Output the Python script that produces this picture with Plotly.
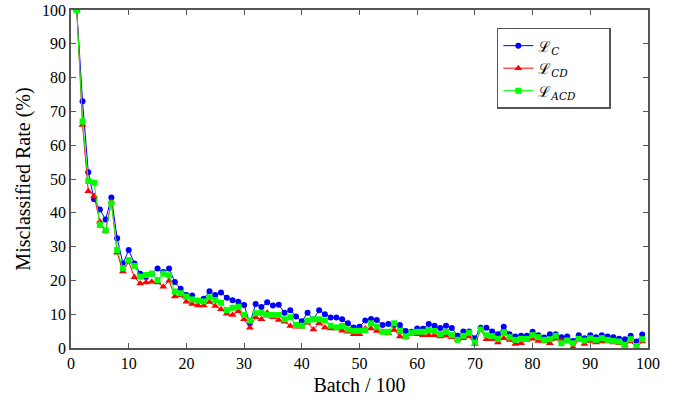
import plotly.graph_objects as go

batch = list(range(1, 100))

loss_c = [100, 73, 52, 44, 41, 38, 44.5, 32.5, 25, 29, 25, 22, 21, 22, 23.5, 22.5, 23.5, 19.5, 17.5, 15.7,
          15.5, 14, 14.6, 16.8, 15.7, 16.4, 14.9, 14.1, 13.7, 12.7, 7.3, 13, 12.1, 13.5, 12.6, 12.8, 10.4, 11.2, 9.3, 7.9,
          10.4, 8.5, 11.2, 10, 9, 9, 8.5, 7.3, 6.1, 6.3, 8.1, 8.6, 8.3, 6.8, 7.1, 6.8, 6.8, 5, 4.8, 5.8,
          5.7, 7.1, 6.6, 5.9, 6.6, 5.9, 3.6, 4.9, 4.9, 2.9, 6, 6, 4.9, 4.1, 6.3, 4.1, 3.4, 3.6, 3.6, 4.8,
          3.8, 3.1, 4.1, 4.1, 3.2, 3.4, 2.1, 3.8, 2.9, 3.8, 3.2, 3.8, 3.4, 3.2, 2.7, 2.6, 3.6, 1.9, 4.0]

loss_cd = [100, 66, 46.4, 45, 37.4, 34.7, 43.3, 28.2, 22.6, 25.5, 20.9, 19.1, 19.4, 19.6, 19.4, 18.1, 19.9, 15.2, 15.5, 13.7,
           13, 12.6, 12.6, 13.6, 12.4, 11.5, 10.1, 9.8, 10.9, 8.5, 6, 9.1, 8.5, 10.4, 9.1, 8.3, 7.8, 6.5, 6.3, 6.3,
           7.5, 5.5, 7.3, 6.1, 5.8, 5.8, 5.1, 4.8, 4.1, 4.1, 5.8, 5.8, 5, 4.8, 4.3, 5.3, 3.4, 3.2, 4.1, 4.1,
           3.8, 3.8, 3.8, 3.4, 3.6, 3.2, 2.6, 2.9, 3.4, 1.2, 5.3, 2.6, 2.6, 1.6, 2.9, 2.4, 1.2, 1.4, 2.4, 2.7,
           2.1, 1.9, 1.4, 2.7, 2.2, 2.4, 0.2, 2.4, 1.2, 2.1, 1.6, 1.9, 1.9, 1.6, 1.4, 0.9, 1.9, 0.2, 1.9]

loss_acd = [100, 67, 49.4, 48.9, 36.4, 34.7, 42.8, 29, 23.6, 26, 24.3, 21.1, 21.6, 22, 20.1, 22, 21.5, 16.7, 16.2, 15.2,
            14.4, 14, 13.8, 15, 14.2, 13.4, 11.2, 11.9, 12.2, 9.8, 8.1, 10.3, 10.4, 9.8, 9.8, 9.8, 8.5, 9.1, 6.8, 6.6,
            8.1, 8.5, 8.5, 8.1, 6.6, 6.1, 6.5, 5.5, 5.1, 5.1, 5.3, 7.3, 6.3, 4.8, 4.8, 7.3, 5, 3.4, 4.5, 4.8,
            4.8, 5.3, 5, 4.1, 4.8, 3.8, 2.4, 3.6, 4.5, 1.6, 5.5, 3.8, 3.5, 2.7, 4.5, 3.2, 2.4, 2.7, 2.7, 3.8,
            3.2, 2.4, 2.6, 3.6, 1.4, 2.2, 1.4, 2.7, 2.2, 2.9, 2.4, 2.9, 2.4, 2.1, 1.9, 0.9, 2.6, 0.6, 2.6]

pad = "\u00a0" * 6
series = [
    ("ℒ<sub><i>C</i></sub>" + pad, loss_c, "#0000ff", "circle", 6),
    ("ℒ<sub><i>CD</i></sub>" + pad, loss_cd, "#ff0000", "triangle-up", 7),
    ("ℒ<sub><i>ACD</i></sub>" + pad, loss_acd, "#00ff00", "square", 6),
]

fig = go.Figure()
for name, vals, color, sym, size in series:
    fig.add_trace(go.Scatter(
        x=batch, y=vals, name=name, mode="lines+markers",
        line=dict(color=color, width=1),
        marker=dict(color=color, symbol=sym, size=size, line=dict(width=0)),
    ))

serif = "Liberation Serif, Times New Roman, serif"
axis_common = dict(
    showline=True, linecolor="#555555", linewidth=1.5, mirror="ticks",
    ticks="inside", ticklen=5, tickcolor="#555555", tickwidth=1,
    showgrid=False, zeroline=False, automargin=False,
    tickfont=dict(family=serif, size=16, color="black"),
)

fig.update_layout(
    width=682, height=406,
    margin=dict(l=71, r=34, t=10, b=58, autoexpand=False),
    plot_bgcolor="white", paper_bgcolor="white",
    font=dict(family=serif, size=16, color="black"),
    xaxis=dict(range=[0, 100], dtick=10, tick0=0,
               title=dict(text="Batch / 100", font=dict(size=20), standoff=7), **axis_common),
    yaxis=dict(range=[0, 100], dtick=10, tick0=0,
               title=dict(text="Misclassified Rate (%)", font=dict(size=20), standoff=6), **axis_common),
    legend=dict(x=0.738, y=0.947, xanchor="left", yanchor="top",
                bgcolor="white", bordercolor="#555555", borderwidth=1.5,
                font=dict(family="DejaVu Serif, Liberation Serif, serif", size=15),
                tracegroupgap=0, itemwidth=30),
    showlegend=True,
)

fig.write_html("out.html", config={"displayModeBar": False},
               post_script="document.body.style.margin='0';")
